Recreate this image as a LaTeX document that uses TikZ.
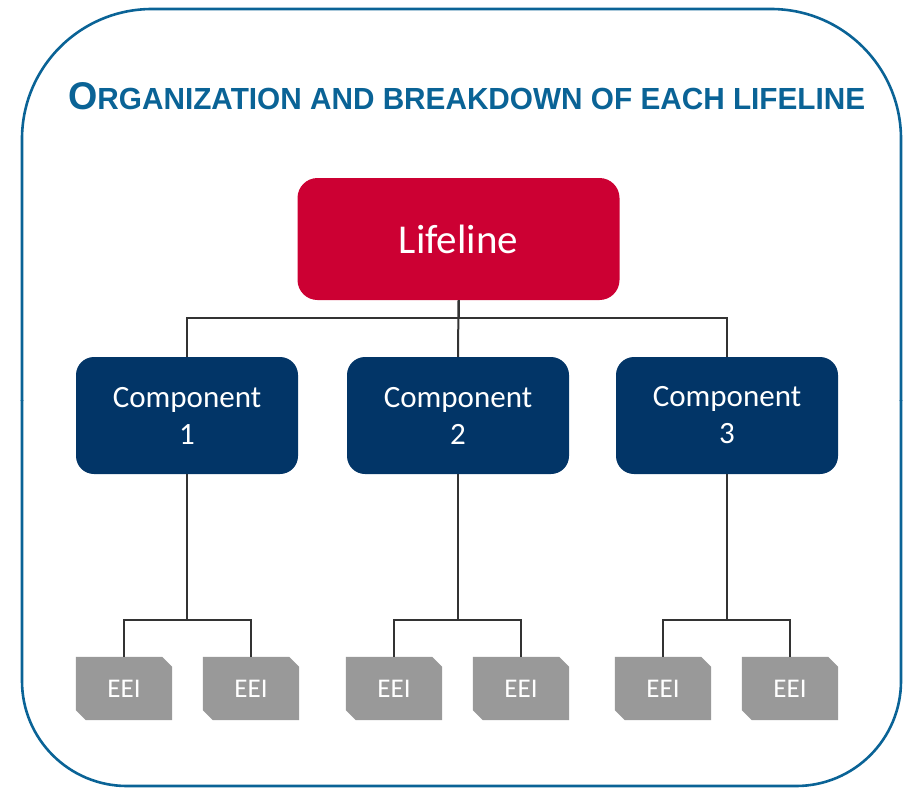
\documentclass[tikz,border=0pt]{standalone}
\usepackage{fontspec}
\setmainfont{Carlito}
\newfontfamily\titlefont{Liberation Sans}
\usetikzlibrary{backgrounds}
\definecolor{frameblue}{HTML}{0A6396}
\definecolor{lifered}{HTML}{CC0033}
\definecolor{compnavy}{HTML}{023567}
\definecolor{eeigray}{HTML}{999999}
\definecolor{linegray}{HTML}{333333}
\tikzset{
  frame/.style={draw=frameblue, line width=2.6pt},
  lifebox/.style={fill=lifered, rounded corners=20pt, minimum width=322pt, minimum height=122pt, inner sep=0pt, text=white, font=\fontsize{41}{45}\selectfont},
  compbox/.style={fill=compnavy, rounded corners=18pt, minimum width=222pt, minimum height=117pt, inner sep=0pt, text=white, align=center, font=\fontsize{31}{37}\selectfont},
  eeibox/.style={rectangle, minimum width=96pt, minimum height=63pt, inner sep=0pt, text=white, font=\fontsize{27}{30}\selectfont},
  eeifill/.style={fill=eeigray},
  conn/.style={draw=linegray, line width=2pt}
}
\begin{document}
\begin{tikzpicture}[x=1pt,y=-1pt]
\useasboundingbox (0,0) rectangle (904,788);
\begin{scope}
\clip (0,0) rectangle (904,400);
\draw[frame, rounded corners=130pt] (22,9) rectangle (901,786);
\end{scope}
\begin{scope}
\clip (0,400) rectangle (904,788);
\draw[frame, rounded corners=105pt] (22,9) rectangle (901,786);
\end{scope}
\node[anchor=base west, inner sep=0pt, text=frameblue] (title) at (68,109)
  {\resizebox{797pt}{27pt}{\titlefont\bfseries\fontsize{10}{12}\selectfont O{\fontsize{7.9}{9}\selectfont RGANIZATION AND BREAKDOWN OF EACH LIFELINE}}};

\node[lifebox] (L) at (458.5,239) {Lifeline};
\node[compbox] (C1) at (187,415.5) {Component\\1};
\node[compbox] (C2) at (458,415.5) {Component\\2};
\node[compbox] (C3) at (727,415.5) {Component\\3};

\node[eeibox] (E11) at (124,688.5) {EEI};
\node[eeibox] (E12) at (251,688.5) {EEI};
\node[eeibox] (E21) at (394,688.5) {EEI};
\node[eeibox] (E22) at (521,688.5) {EEI};
\node[eeibox] (E31) at (663,688.5) {EEI};
\node[eeibox] (E32) at (790,688.5) {EEI};

\begin{scope}[on background layer]
\foreach \n in {E11,E12,E21,E22,E31,E32}{
  \fill[eeifill] (\n.north west) -- ([xshift=-10pt]\n.north east) -- ([yshift=-10pt]\n.north east)
    -- (\n.south east) -- ([xshift=10pt]\n.south west) -- ([yshift=10pt]\n.south west) -- cycle;
}
\end{scope}

\draw[conn] (L.south) -- ++(0,18) -| (C1.north);
\draw[conn] (L.south) -- ++(0,18) -| (C3.north);
\draw[conn] (L.south) -- (C2.north);

\draw[conn] (C1.south) -- ++(0,146) -| (E11.north);
\draw[conn] (C1.south) -- ++(0,146) -| (E12.north);
\draw[conn] (C2.south) -- ++(0,146) -| (E21.north);
\draw[conn] (C2.south) -- ++(0,146) -| (E22.north);
\draw[conn] (C3.south) -- ++(0,146) -| (E31.north);
\draw[conn] (C3.south) -- ++(0,146) -| (E32.north);
\end{tikzpicture}
\end{document}
